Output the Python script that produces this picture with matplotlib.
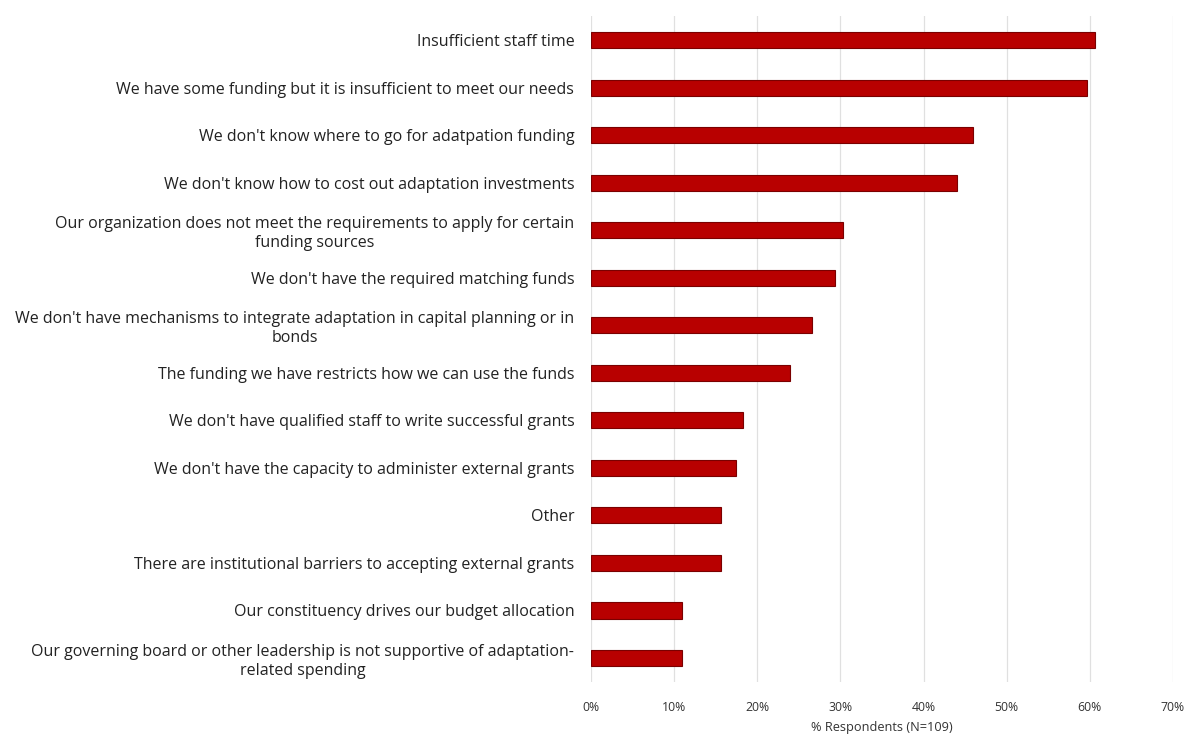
import matplotlib
matplotlib.use('Agg')
from matplotlib import pyplot as plt
from matplotlib.ticker import PercentFormatter

plt.rcParams['font.family'] = ['Open Sans', 'DejaVu Sans']

# Data, top to bottom as shown
labels = [
    'Insufficient staff time',
    'We have some funding but it is insufficient to meet our needs',
    "We don't know where to go for adatpation funding",
    "We don't know how to cost out adaptation investments",
    'Our organization does not meet the requirements to apply for certain\nfunding sources',
    "We don't have the required matching funds",
    "We don't have mechanisms to integrate adaptation in capital planning or in\nbonds",
    'The funding we have restricts how we can use the funds',
    "We don't have qualified staff to write successful grants",
    "We don't have the capacity to administer external grants",
    'Other',
    'There are institutional barriers to accepting external grants',
    'Our constituency drives our budget allocation',
    'Our governing board or other leadership is not supportive of adaptation-\nrelated spending',
]
values = [60.6, 59.6, 45.9, 44.0, 30.3, 29.4, 26.6, 23.9, 18.3, 17.4, 15.6, 15.6, 11.0, 11.0]
xticks = [0, 10, 20, 30, 40, 50, 60, 70]

fig = plt.figure(figsize=(11.94, 7.40), dpi=100)
ax = fig.add_axes([0.495, 0.0787, 0.4874, 0.8993])

ypos = list(range(len(labels)))
ax.barh(ypos, values, height=0.34, color='#B80000', edgecolor='#7A0000', linewidth=0.8, zorder=3)

ax.set_ylim(len(labels) - 0.5, -0.5)
ax.set_xlim(0, 70)
ax.set_xticks(xticks)
ax.xaxis.set_major_formatter(PercentFormatter(decimals=0))
ax.set_yticks(ypos)
ax.set_yticklabels(labels, fontsize=11.5, color='#222222')
for t in ax.get_yticklabels():
    t.set_multialignment('center')
    t.set_linespacing(1.25)

ax.tick_params(axis='y', length=0, pad=12)
ax.tick_params(axis='x', length=0, pad=14, labelsize=8.8, labelcolor='#333333')
ax.grid(axis='x', color='#E0E0E0', linewidth=0.9, zorder=0)
for s in ax.spines.values():
    s.set_visible(False)

ax.set_xlabel('% Respondents (N=109)', fontsize=9.2, color='#333333', labelpad=5)

fig.savefig('out.png', dpi=100)
